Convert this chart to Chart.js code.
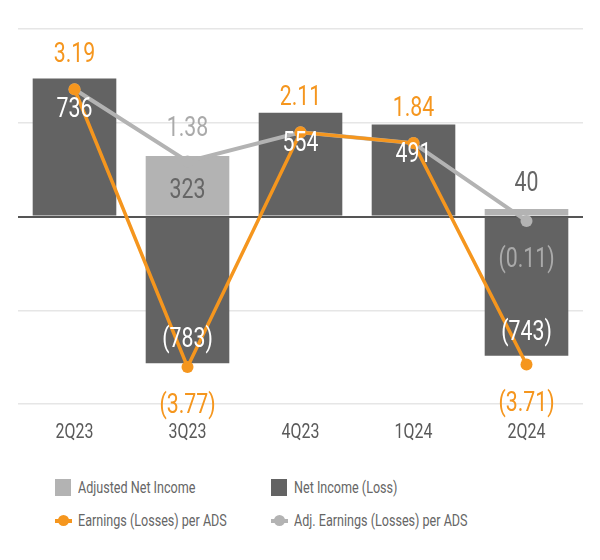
<!DOCTYPE html>
<html>
<head>
<meta charset="utf-8">
<script src="https://cdn.jsdelivr.net/npm/chart.js@4.4.1/dist/chart.umd.min.js"></script>
<style>
body { margin: 0; background: #fff; font-family: Roboto, sans-serif; }
#legend { position: relative; width: 600px; height: 110px; color: #666; font-size: 17px; }
.item { position: absolute; display: flex; align-items: center; height: 20px; white-space: nowrap; }
.item .txt { display: inline-block; transform: scaleX(0.74); transform-origin: left center; }
.box { width: 16px; height: 17px; margin-right: 7px; flex: none; }
.mark { position: relative; width: 17px; height: 17px; margin-right: 6px; flex: none; }
.mark .ln { position: absolute; left: 0; right: 0; top: 7px; height: 4px; }
.mark .dot { position: absolute; left: 3px; top: 3px; width: 11px; height: 11px; border-radius: 50%; }
</style>
</head>
<body>
<canvas id="chart" width="600" height="450"></canvas>
<div id="legend">
  <div class="item" style="left:55px; top:27px;"><span class="box" style="background:#b3b3b3"></span><span class="txt">Adjusted Net Income</span></div>
  <div class="item" style="left:271px; top:27px;"><span class="box" style="background:#636363"></span><span class="txt">Net Income (Loss)</span></div>
  <div class="item" style="left:55px; top:60px;"><span class="mark"><span class="ln" style="background:#f5961e"></span><span class="dot" style="background:#f5961e"></span></span><span class="txt">Earnings (Losses) per ADS</span></div>
  <div class="item" style="left:271px; top:60px;"><span class="mark"><span class="ln" style="background:#b3b3b3"></span><span class="dot" style="background:#b3b3b3"></span></span><span class="txt">Adj. Earnings (Losses) per ADS</span></div>
</div>
<script>
const categories = ['2Q23', '3Q23', '4Q23', '1Q24', '2Q24'];
const adjustedNetIncome = [null, 323, null, null, 40];
const netIncome = [736, -783, 554, 491, -743];
const eps = [3.19, -3.77, 2.11, 1.84, -3.71];
const adjEps = [3.19, 1.38, 2.11, 1.84, -0.11];

const ORANGE = '#f5961e';
const LIGHT = '#b3b3b3';
const DARK = '#636363';
const FONT = 'Roboto, sans-serif';

function fmtInt(v) {
    return v < 0 ? '(' + Math.abs(v) + ')' : String(v);
}
function fmtEps(v) {
    return v < 0 ? '(' + Math.abs(v).toFixed(2) + ')' : v.toFixed(2);
}

// condensed look: squeeze text horizontally
function narrowText(ctx, text, x, y, size, color) {
    ctx.save();
    ctx.font = size + 'px ' + FONT;
    ctx.fillStyle = color;
    ctx.textAlign = 'center';
    ctx.textBaseline = 'middle';
    ctx.translate(x, y + 3);
    ctx.scale(0.76, 1);
    ctx.fillText(text, 0, 0);
    ctx.restore();
}

// draws the numbers on bars and points + category labels
const valueLabels = {
    id: 'valueLabels',
    afterDatasetsDraw(chart) {
        const ctx = chart.ctx;
        chart.data.datasets.forEach((ds, i) => {
            const meta = chart.getDatasetMeta(i);
            meta.data.forEach((el, j) => {
                const v = ds.data[j];
                if (v === null || v === undefined) return;
                if (ds.kind === 'net') {
                    narrowText(ctx, fmtInt(v), el.x, v >= 0 ? el.y + 28 : el.y - 26, 28, '#fff');
                } else if (ds.kind === 'adj') {
                    const h = Math.abs(el.base - el.y);
                    narrowText(ctx, fmtInt(v), el.x, h < 40 ? el.y - 28 : el.y + 32, 28, '#666');
                } else if (ds.kind === 'eps') {
                    narrowText(ctx, fmtEps(v), el.x, v >= 0 ? el.y - 37 : el.y + 36, 28, ORANGE);
                } else if (ds.kind === 'adjEps') {
                    if (v === eps[j]) return;
                    narrowText(ctx, fmtEps(v), el.x, v >= 0 ? el.y - 35 : el.y + 36, 28, '#aaa');
                }
            });
        });
        const xs = chart.scales.x;
        categories.forEach((c, i) => {
            narrowText(ctx, c, xs.getPixelForValue(i), chart.chartArea.bottom + 26, 21, '#595959');
        });
    }
};

new Chart(document.getElementById('chart'), {
    type: 'bar',
    data: {
        labels: categories,
        datasets: [{
            kind: 'adj',
            label: 'Adjusted Net Income',
            data: adjustedNetIncome,
            backgroundColor: LIGHT,
            yAxisID: 'y',
            grouped: false,
            order: 3
        }, {
            kind: 'net',
            label: 'Net Income (Loss)',
            data: netIncome,
            backgroundColor: DARK,
            yAxisID: 'y',
            grouped: false,
            order: 3
        }, {
            kind: 'adjEps',
            type: 'line',
            label: 'Adj. Earnings (Losses) per ADS',
            data: adjEps,
            borderColor: LIGHT,
            backgroundColor: LIGHT,
            borderWidth: 4,
            pointRadius: 6,
            pointBorderWidth: 0,
            tension: 0,
            yAxisID: 'y1',
            order: 2
        }, {
            kind: 'eps',
            type: 'line',
            label: 'Earnings (Losses) per ADS',
            data: eps,
            borderColor: ORANGE,
            backgroundColor: ORANGE,
            borderWidth: 3.5,
            pointRadius: 6,
            pointBorderWidth: 0,
            tension: 0,
            yAxisID: 'y1',
            order: 1
        }]
    },
    options: {
        responsive: false,
        animation: false,
        devicePixelRatio: 1,
        layout: { padding: { left: 18, right: 17, top: 29, bottom: 38 } },
        datasets: { bar: { categoryPercentage: 1, barPercentage: 0.74 } },
        plugins: {
            legend: { display: false },
            tooltip: { enabled: false }
        },
        scales: {
            x: {
                grid: { display: false },
                border: { display: false },
                ticks: { display: false }
            },
            y: {
                min: -1000,
                max: 1000,
                ticks: { display: false, stepSize: 500 },
                border: { display: false },
                grid: {
                    drawTicks: false,
                    color: c => c.tick.value === 0 ? '#555' : '#e6e6e6',
                    lineWidth: c => c.tick.value === 0 ? 2 : 1.5
                }
            },
            y1: {
                display: false,
                min: -4.7,
                max: 4.7
            }
        }
    },
    plugins: [valueLabels]
});
</script>
</body>
</html>
